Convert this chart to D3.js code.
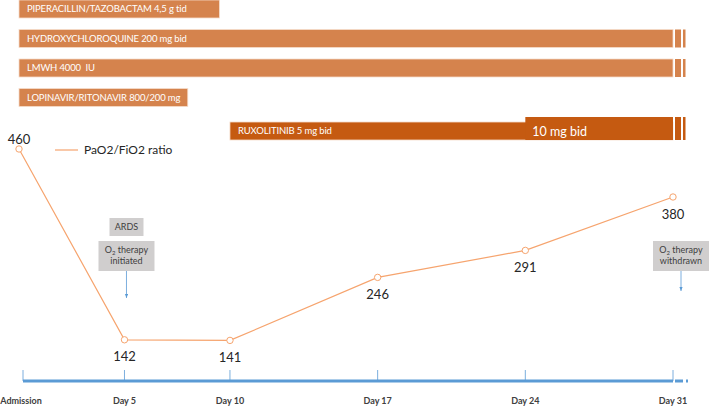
<!DOCTYPE html>
<html>
<head>
<meta charset="utf-8">
<script src="https://cdn.jsdelivr.net/npm/d3@7"></script>
<style>
  body { margin: 0; background: #fff; }
  svg { display: block; font-family: Lato, "Open Sans", sans-serif; }
  text { white-space: pre; }
</style>
</head>
<body>
<div id="chart"></div>
<script>
// Timeline data
const days = [0, 5, 10, 17, 24, 31];
const dayLabels = ["Admission", "Day 5", "Day 10", "Day 17", "Day 24", "Day 31"];
const pfRatio = [460, 142, 141, 246, 291, 380];

// Treatments (start / end day)
const drugNames = [
  "PIPERACILLIN/TAZOBACTAM 4,5 g tid",
  "HYDROXYCHLOROQUINE 200 mg bid",
  "LMWH 4000  IU",
  "LOPINAVIR/RITONAVIR 800/200 mg",
  "RUXOLITINIB 5 mg bid"
];
const drugStart = [0, 0, 0, 0, 10];
const drugEnd = [9.5, 31, 31, 8, 31];
const drugOngoing = [false, true, true, false, true];
const ruxDoseDay = 24;
const ruxDoseLabel = "10 mg bid";

// Events
const eventDays = [5, 31];
const eventBoxes = [["ARDS"], []];
const eventLines = [[["O", "2", " therapy"], ["initiated"]], [["O", "2", " therapy"], ["withdrawn"]]];

const W = 709, H = 406;
const svg = d3.select("#chart").append("svg")
  .attr("width", W).attr("height", H);

// Scales
const x = d3.scaleLinear().domain([0, 31]).range([19, 673]);
const y = d3.scaleLinear().domain([0, 500]).range([425, 125]);
const yBand = d3.scaleBand().domain(drugNames).range([0, 136]).paddingInner(0.39).paddingOuter(0);
const bw = yBand.bandwidth();

const barColor = "#d5834d", ruxColor = "#c55a11", blue = "#5b9bd5", lineColor = "#f6a46e";

// Treatment bars
drugNames.forEach((name, i) => {
  const isRux = i === drugNames.length - 1;
  const top = yBand(name) + (isRux ? 4 : 0);
  const fill = isRux ? ruxColor : barColor;
  const g = svg.append("g");
  g.append("rect")
    .attr("x", x(drugStart[i]))
    .attr("y", top)
    .attr("width", x(drugEnd[i]) - x(drugStart[i]))
    .attr("height", bw)
    .attr("fill", fill)
    .attr("stroke", "#f6dccb").attr("stroke-width", 0.8);
  if (isRux) {
    g.append("rect")
      .attr("x", x(ruxDoseDay))
      .attr("y", top - 5)
      .attr("width", x(drugEnd[i]) - x(ruxDoseDay))
      .attr("height", bw + 5)
      .attr("fill", fill);
    g.append("text")
      .attr("x", x(ruxDoseDay) + 7)
      .attr("y", top + bw / 2 + 1)
      .attr("dy", "0.35em")
      .attr("fill", "#fff")
      .style("font-size", "12.5px")
      .text(ruxDoseLabel);
  }
  if (drugOngoing[i]) {
    const e = x(drugEnd[i]);
    const by = isRux ? top - 5 : top;
    const bh = isRux ? bw + 5 : bw;
    g.append("rect").attr("x", e + 2).attr("y", by).attr("width", 6).attr("height", bh).attr("fill", fill);
    g.append("rect").attr("x", e + 10).attr("y", by).attr("width", 2.5).attr("height", bh).attr("fill", fill);
  }
  g.append("text")
    .attr("x", x(drugStart[i]) + 8)
    .attr("y", top + bw / 2)
    .attr("dy", "0.35em")
    .attr("fill", "#fff")
    .style("font-size", "9.5px")
    .style("letter-spacing", "-0.15px")
    .text(name);
});

// Legend
svg.append("line")
  .attr("x1", 55).attr("x2", 78).attr("y1", 150).attr("y2", 150)
  .attr("stroke", lineColor).attr("stroke-width", 1.2);
svg.append("text")
  .attr("x", 84).attr("y", 150).attr("dy", "0.35em")
  .attr("fill", "#262626")
  .style("font-size", "12px")
  .text("PaO2/FiO2 ratio");

// Time axis
const axisY = 381;
svg.append("line")
  .attr("x1", x(0) + 4).attr("x2", x(31)).attr("y1", axisY).attr("y2", axisY)
  .attr("stroke", blue).attr("stroke-width", 3);
svg.append("line")
  .attr("x1", x(31) + 2).attr("x2", x(31) + 10).attr("y1", axisY).attr("y2", axisY)
  .attr("stroke", blue).attr("stroke-width", 3);
svg.append("line")
  .attr("x1", x(31) + 13).attr("x2", x(31) + 15).attr("y1", axisY).attr("y2", axisY)
  .attr("stroke", blue).attr("stroke-width", 3);

days.forEach((d, i) => {
  svg.append("line")
    .attr("x1", x(d) + (i === 0 ? 4 : 0)).attr("x2", x(d) + (i === 0 ? 4 : 0))
    .attr("y1", axisY - 11).attr("y2", axisY)
    .attr("stroke", blue).attr("stroke-width", 0.8);
  svg.append("text")
    .attr("x", x(d) + (i === 0 ? 2 : 0))
    .attr("y", 401).attr("dy", "0.35em")
    .attr("text-anchor", "middle")
    .attr("fill", "#404040")
    .style("font-size", "9px").style("font-weight", "bold")
    .text(dayLabels[i]);
});

// Event annotations
svg.append("defs").append("marker")
  .attr("id", "arrow").attr("viewBox", "0 0 10 10")
  .attr("refX", 10).attr("refY", 5)
  .attr("markerWidth", 5).attr("markerHeight", 5)
  .attr("orient", "auto")
  .append("path").attr("d", "M0,1 L10,5 L0,9 Z").attr("fill", blue);

eventDays.forEach((d, i) => {
  const cx = i === 0 ? x(d) + 2 : x(d) + 8;
  eventBoxes[i].forEach(label => {
    svg.append("rect")
      .attr("x", cx - 17).attr("y", 218).attr("width", 34).attr("height", 18)
      .attr("fill", "#d0cece");
    svg.append("text")
      .attr("x", cx).attr("y", 227).attr("dy", "0.35em")
      .attr("text-anchor", "middle").attr("fill", "#404040")
      .style("font-size", "9px")
      .text(label);
  });
  svg.append("rect")
    .attr("x", cx - 28).attr("y", 241).attr("width", 56).attr("height", 30)
    .attr("fill", "#d0cece");
  eventLines[i].forEach((parts, j) => {
    const t = svg.append("text")
      .attr("x", cx).attr("y", 253 + j * 11)
      .attr("text-anchor", "middle").attr("fill", "#404040")
      .style("font-size", "9px");
    if (parts.length === 3) {
      t.append("tspan").text(parts[0]);
      t.append("tspan").attr("dy", 2).style("font-size", "6px").text(parts[1]);
      t.append("tspan").attr("dy", -2).text(parts[2]);
    } else {
      t.text(parts[0]);
    }
  });
  svg.append("line")
    .attr("x1", cx).attr("x2", cx)
    .attr("y1", 271).attr("y2", i === 0 ? 298 : 291)
    .attr("stroke", blue).attr("stroke-width", 0.8)
    .attr("marker-end", "url(#arrow)");
});

// PaO2/FiO2 line
const pts = days.map((d, i) => [x(d), y(pfRatio[i])]);
svg.append("path")
  .attr("d", d3.line()(pts))
  .attr("fill", "none")
  .attr("stroke", lineColor).attr("stroke-width", 1.2);

svg.selectAll(".pt")
  .data(pts)
  .join("circle")
  .attr("class", "pt")
  .attr("cx", d => d[0]).attr("cy", d => d[1]).attr("r", 3.2)
  .attr("fill", "#fff").attr("stroke", lineColor).attr("stroke-width", 1);

svg.selectAll(".val")
  .data(pts)
  .join("text")
  .attr("class", "val")
  .attr("x", d => d[0])
  .attr("y", (d, i) => i === 0 ? d[1] - 10 : d[1] + 17)
  .attr("dy", "0.35em")
  .attr("text-anchor", "middle")
  .attr("fill", "#262626")
  .style("font-size", "13px")
  .text((d, i) => pfRatio[i]);
</script>
</body>
</html>
